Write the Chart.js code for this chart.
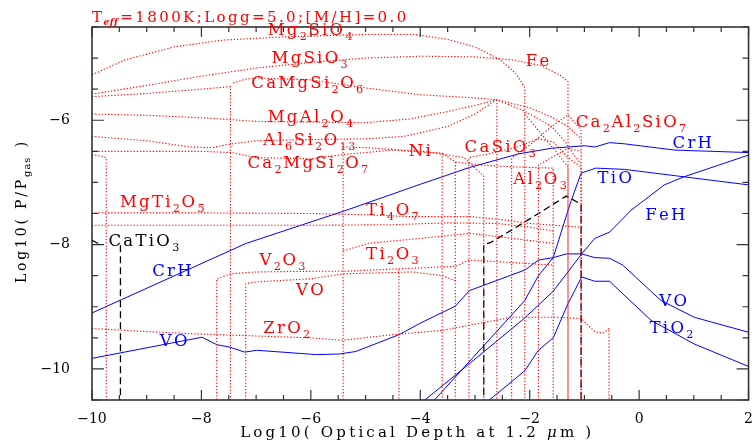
<!DOCTYPE html>
<html lang="en">
<head>
<meta charset="UTF-8">
<title>Condensates - Teff 1800K</title>
<style>
    html, body { margin: 0; padding: 0; background: #fff; }
    #wrap { width: 756px; height: 443px; }
</style>
</head>
<body>
<div id="wrap"><canvas id="chart"></canvas></div>
<script src="https://cdn.jsdelivr.net/npm/chart.js"></script>
<script>
// axis ticks
const xTicks = [-10, -8, -6, -4, -2, 0, 2];
const yTicks = [-10, -8, -6];

// blue molecules (log optical depth, log P/Pgas)
const crhX  = [-10, -7.18, -5.36, -4.0, -3.1, -2.2, -1.6, -1.0, -0.81, -0.54, -0.26, 0.65, 2.0];
const crhY  = [-9.10, -7.98, -7.45, -7.03, -6.76, -6.54, -6.45, -6.41, -6.43, -6.36, -6.38, -6.48, -6.52];
const tioX  = [-3.75, -2.09, -1.84, -1.57, -1.30, -1.24, -1.06, -0.79, -0.27, 0.82, 2.0];
const tioY  = [-10.51, -8.90, -8.50, -8.21, -7.45, -7.29, -6.85, -6.77, -6.79, -6.91, -7.04];
const fehX  = [-3.93, -3.12, -2.09, -1.57, -1.05, -0.81, -0.54, -0.15, 0.46, 0.82, 2.0];
const fehY  = [-10.51, -9.93, -9.18, -8.75, -8.15, -7.90, -7.80, -7.45, -7.04, -6.91, -6.56];
const voX   = [-10, -7.99, -7.72, -7.48, -7.21, -6.99, -5.90, -5.48, -5.18, -4.39, -3.99, -3.36, -3.10, -2.09, -1.84, -1.57, -1.33, -1.05, -0.81, -0.54, -0.30, 0.40, 1.01, 2.0];
const voY   = [-9.83, -9.49, -9.61, -9.65, -9.73, -9.70, -9.77, -9.76, -9.72, -9.45, -9.26, -8.99, -8.74, -8.41, -8.25, -8.21, -8.15, -8.15, -8.21, -8.22, -8.33, -8.90, -9.17, -9.41];
const tio2X = [-2.75, -2.09, -1.84, -1.57, -1.30, -1.05, -0.81, -0.54, -0.30, 0.22, 1.01, 2.0];
const tio2Y = [-10.51, -10.03, -9.70, -9.50, -8.95, -8.52, -8.59, -8.59, -8.79, -9.22, -9.60, -9.96];

// black dashed CaTiO3
const catio3A = [[-10, -7.93], [-9.85, -8.0]];
const catio3B = [[-9.48, -10.6], [-9.48, -7.98]];
const catio3C = [[-2.84, -10.6], [-2.84, -8.0], [-2.72, -7.97], [-2.3, -7.75], [-1.84, -7.5], [-1.33, -7.22], [-1.06, -7.35], [-1.06, -10.6]];

// red dotted condensates
const mg2sio4   = [[-10, -5.27], [-9.4, -5.03], [-8.5, -4.82], [-7.6, -4.71], [-6.5, -4.66], [-5, -4.62], [-4.1, -4.62], [-3.5, -4.7], [-3.0, -4.82], [-2.55, -5.02], [-2.25, -5.25], [-2.09, -5.48], [-2.09, -10.6]];
const mgsio3    = [[-10, -5.58], [-9, -5.44], [-8, -5.29], [-7, -5.16], [-6, -5.07], [-5, -5.0], [-4, -4.97], [-3, -4.98], [-2.3, -5.03], [-1.8, -5.12], [-1.45, -5.27], [-1.3, -5.38], [-1.3, -10.6]];
const camgsi2o6a = [[-10, -5.62], [-9, -5.57], [-8, -5.5], [-7.47, -5.46], [-7.47, -10.6]];
const camgsi2o6b = [[-7.42, -5.4], [-7.2, -5.34], [-7, -5.32], [-6, -5.35], [-5, -5.48], [-4, -5.59], [-3, -5.64], [-2.6, -5.67], [-2.6, -10.6]];
const mgal2o4   = [[-10, -5.9], [-9, -5.92], [-8, -5.96], [-7.45, -5.99], [-7, -6.02], [-6, -6.03], [-5, -6.04], [-4.2, -5.98], [-3.5, -5.86], [-3, -5.76], [-2.6, -5.67], [-2.1, -5.85], [-1.6, -6.1], [-1.35, -6.35], [-1.2, -6.55], [-1.06, -6.7]];
const al6si2o13 = [[-10, -6.26], [-9, -6.33], [-8.2, -6.43], [-7.8, -6.44], [-7.45, -6.38], [-7, -6.33], [-6, -6.31], [-5, -6.3], [-4.3, -6.26], [-3.5, -6.1], [-3, -5.9], [-2.6, -5.67], [-2.0, -5.8], [-1.6, -5.95], [-1.3, -6.1], [-1.06, -6.3]];
const ca2mgsi2o7 = [[-10, -6.5], [-9, -6.5], [-8, -6.5], [-7.45, -6.52], [-7, -6.6], [-6, -6.62], [-5.41, -6.55], [-5, -6.52], [-4.5, -6.48], [-3.8, -6.52], [-3.2, -6.6], [-2.84, -6.9], [-2.84, -10.6]];
const shortPiece = [[-10, -6.55], [-9.74, -6.6], [-9.74, -10.6]];
const ni        = [[-5.41, -10.6], [-5.41, -6.43], [-5, -6.44], [-4.5, -6.47], [-4, -6.5], [-3.6, -6.53], [-3.6, -10.6]];
const niB       = [[-3.6, -6.53], [-3.36, -6.67], [-2.9, -6.72], [-2.3, -6.75], [-1.57, -6.77], [-1.57, -10.6]];
const niC       = [[-3.36, -6.67], [-3.36, -10.6]];
const casio3    = [[-3.11, -10.6], [-3.11, -6.6], [-2.8, -6.55], [-2.3, -6.45], [-1.84, -6.3], [-1.57, -6.35], [-1.3, -6.6], [-1.06, -6.75], [-1.06, -10.6]];
const ca2al2sio7 = [[-2.33, -10.6], [-2.33, -6.61], [-2.0, -6.4], [-1.6, -6.1], [-1.3, -5.91], [-1.06, -6.16], [-1.06, -10.6]];
const al2o3     = [[-1.84, -10.6], [-1.84, -6.72], [-1.6, -6.6], [-1.4, -6.5], [-1.3, -6.45], [-1.06, -6.5]];
const crossA    = [[-2.09, -5.9], [-1.57, -6.45], [-1.3, -6.75], [-1.3, -10.6]];
const mgti2o5   = [[-10, -7.49], [-8, -7.49], [-6, -7.5], [-5, -7.52], [-4.2, -7.55], [-3.1, -7.55], [-2.5, -7.6], [-2.0, -7.66], [-1.4, -7.7], [-1.06, -7.72]];
const ti4o7     = [[-10, -7.69], [-8, -7.69], [-6, -7.69], [-4.5, -7.68], [-3.5, -7.65], [-2.6, -7.66], [-2.0, -7.72], [-1.57, -7.78]];
const ti2o3     = [[-5.41, -8.1], [-4.94, -7.98], [-4, -7.9], [-3.1, -7.82], [-2.5, -7.88], [-1.57, -7.98]];
const v2o3      = [[-7.72, -10.6], [-7.72, -8.55], [-7.45, -8.47], [-7, -8.44], [-6, -8.43], [-5.4, -8.43], [-4.4, -8.39], [-3.6, -8.36], [-3.36, -8.35], [-3.1, -8.25], [-2.5, -8.28], [-1.57, -8.33]];
const voRed     = [[-7.19, -10.6], [-7.19, -8.63], [-7, -8.6], [-6, -8.55], [-5.4, -8.47], [-4.5, -8.45], [-4.15, -8.44], [-3.6, -8.5], [-3.36, -8.58]];
const vert439   = [[-4.39, -8.4], [-4.39, -10.6]];
const zro2      = [[-10, -9.35], [-9, -9.4], [-8, -9.44], [-7, -9.47], [-6, -9.5], [-5.41, -9.54], [-4.94, -9.49], [-4.39, -9.44], [-3.6, -9.38], [-3.0, -9.28], [-2.33, -9.17], [-1.5, -9.17], [-1.06, -9.19], [-0.8, -9.41], [-0.65, -9.42], [-0.55, -9.35], [-0.55, -10.6]];

const redCurves = [mg2sio4, mgsio3, camgsi2o6a, camgsi2o6b, mgal2o4, al6si2o13, ca2mgsi2o7, shortPiece,
    ni, niB, niC, casio3, ca2al2sio7, al2o3, crossA, mgti2o5, ti4o7, ti2o3, v2o3, voRed, vert439, zro2];

// text labels: [text, x, y, color]  ("_{..}" = subscript)
const labels = [
    ['Mg_{2}SiO_{4}', -6.79, -4.54, 'red'],
    ['MgSiO_{3}', -6.72, -4.98, 'red'],
    ['CaMgSi_{2}O_{6}', -7.09, -5.38, 'red'],
    ['MgAl_{2}O_{4}', -6.79, -5.93, 'red'],
    ['Al_{6}Si_{2}O_{13}', -6.87, -6.30, 'red'],
    ['Ca_{2}MgSi_{2}O_{7}', -7.16, -6.67, 'red'],
    ['Ni', -4.21, -6.48, 'red'],
    ['CaSiO_{3}', -3.19, -6.42, 'red'],
    ['Fe', -2.07, -5.03, 'red'],
    ['Ca_{2}Al_{2}SiO_{7}', -1.16, -6.01, 'red'],
    ['Al_{2}O_{3}', -2.30, -6.93, 'red'],
    ['MgTi_{2}O_{5}', -9.49, -7.30, 'red'],
    ['Ti_{4}O_{7}', -4.99, -7.43, 'red'],
    ['V_{2}O_{3}', -6.94, -8.24, 'red'],
    ['Ti_{2}O_{3}', -4.99, -8.14, 'red'],
    ['VO', -6.27, -8.71, 'red'],
    ['ZrO_{2}', -6.87, -9.33, 'red'],
    ['CaTiO_{3}', -9.70, -7.93, 'black'],
    ['CrH', -8.90, -8.41, 'blue'],
    ['VO', -8.76, -9.53, 'blue'],
    ['CrH', 0.61, -6.35, 'blue'],
    ['TiO', -0.76, -6.92, 'blue'],
    ['FeH', 0.11, -7.51, 'blue'],
    ['VO', 0.37, -8.90, 'blue'],
    ['TiO_{2}', 0.19, -9.32, 'blue']
];

const SERIF = '"DejaVu Serif", "Liberation Serif", serif';
const RED = '#ff0000';
const BLUE = '#0000ff';

function pts(xs, ys) { return xs.map((x, i) => ({ x: x, y: ys[i] })); }
function pairs(arr) { return arr.map(p => ({ x: p[0], y: p[1] })); }

const datasets = [];
redCurves.forEach(c => datasets.push({
    data: pairs(c), borderColor: RED, borderWidth: 1.1, borderDash: [1.3, 1.9],
    pointRadius: 0, tension: 0, clip: 0
}));
[catio3A, catio3B, catio3C].forEach(c => datasets.push({
    data: pairs(c), borderColor: '#000', borderWidth: 1.3, borderDash: [7, 4],
    pointRadius: 0, tension: 0, clip: 0
}));
[[crhX, crhY], [tioX, tioY], [fehX, fehY], [voX, voY], [tio2X, tio2Y]].forEach(s => datasets.push({
    data: pts(s[0], s[1]), borderColor: BLUE, borderWidth: 1,
    pointRadius: 0, tension: 0, clip: 0
}));

// split "Mg_{2}SiO_{4}" into runs
function parseRich(str) {
    const out = [];
    const re = /_\{([^}]*)\}/g;
    let last = 0, m;
    while ((m = re.exec(str)) !== null) {
        if (m.index > last) out.push({ t: str.slice(last, m.index), sub: false });
        out.push({ t: m[1], sub: true });
        last = re.lastIndex;
    }
    if (last < str.length) out.push({ t: str.slice(last), sub: false });
    return out;
}

// draw text char by char with extra spacing, returns end x
function spaced(ctx, text, x, y, gap) {
    for (const ch of text) {
        ctx.fillText(ch, x, y);
        x += ctx.measureText(ch).width + gap;
    }
    return x;
}

function drawRich(ctx, str, x, yMid, size, color, gap) {
    ctx.save();
    ctx.fillStyle = color;
    ctx.textAlign = 'left';
    ctx.textBaseline = 'alphabetic';
    const base = yMid + size * 0.36;
    parseRich(str).forEach(r => {
        if (r.sub) {
            const s = size * 0.68;
            ctx.font = s + 'px ' + SERIF;
            x = spaced(ctx, r.t, x, base + size * 0.3, gap * 0.7);
        } else {
            ctx.font = size + 'px ' + SERIF;
            x = spaced(ctx, r.t, x, base, gap);
        }
    });
    ctx.restore();
    return x;
}

const decor = {
    id: 'decor',
    afterDraw(chart) {
        const ctx = chart.ctx;
        const a = chart.chartArea;
        const xs = chart.scales.x, ys = chart.scales.y;

        // frame
        ctx.save();
        ctx.strokeStyle = '#333';
        ctx.lineWidth = 1.6;
        ctx.strokeRect(a.left, a.top, a.right - a.left, a.bottom - a.top);

        // inward ticks on all four sides
        ctx.lineWidth = 1.2;
        ctx.beginPath();
        for (let v = -10; v <= 2.001; v += 0.5) {
            const px = xs.getPixelForValue(v);
            const len = Math.abs(v % 2) < 1e-6 ? 10 : 5;
            ctx.moveTo(px, a.bottom); ctx.lineTo(px, a.bottom - len);
            ctx.moveTo(px, a.top); ctx.lineTo(px, a.top + len);
        }
        for (let v = -10.5; v <= -4.499; v += 0.5) {
            const py = ys.getPixelForValue(v);
            const len = Math.abs(v % 2) < 1e-6 ? 12 : 6;
            ctx.moveTo(a.left, py); ctx.lineTo(a.left + len, py);
            ctx.moveTo(a.right, py); ctx.lineTo(a.right - len, py);
        }
        ctx.stroke();
        ctx.restore();

        // curve labels
        labels.forEach(l => {
            const col = l[3] === 'red' ? RED : (l[3] === 'blue' ? BLUE : '#000');
            drawRich(ctx, l[0], xs.getPixelForValue(l[1]), ys.getPixelForValue(l[2]), 16.5, col, 2.3);
        });

        // header
        ctx.save();
        ctx.fillStyle = RED;
        ctx.textBaseline = 'alphabetic';
        let x = a.left;
        ctx.font = '15px ' + SERIF;
        x = spaced(ctx, 'T', x, 22, 2.4);
        ctx.font = 'italic bold 9px ' + SERIF;
        x = spaced(ctx, 'eff', x - 1, 25, 0.5);
        ctx.font = '15px ' + SERIF;
        spaced(ctx, '=1800K;Logg=5.0;[M/H]=0.0', x + 2, 22, 2.4);
        ctx.restore();

        // axis titles
        ctx.save();
        ctx.fillStyle = '#000';
        ctx.font = '15px ' + SERIF;
        ctx.textBaseline = 'middle';
        const xt = 'Log10( Optical Depth at 1.2 ';
        const gap = 3.2;
        let w = 0;
        for (const ch of xt) w += ctx.measureText(ch).width + gap;
        ctx.font = 'italic 15px ' + SERIF;
        w += ctx.measureText('\u03bc').width + gap;
        ctx.font = '15px ' + SERIF;
        for (const ch of 'm )') w += ctx.measureText(ch).width + gap;
        let tx = (a.left + a.right) / 2 - w / 2 - 3;
        tx = spaced(ctx, xt, tx, 433, gap);
        ctx.font = 'italic 15px ' + SERIF;
        tx = spaced(ctx, '\u03bc', tx, 433, gap);
        ctx.font = '15px ' + SERIF;
        spaced(ctx, 'm )', tx, 433, gap);

        ctx.font = '14px ' + SERIF;
        ctx.translate(21, 212);
        ctx.rotate(-Math.PI / 2);
        ctx.textBaseline = 'alphabetic';
        const ygap = 2.8;
        const yt1 = 'Log10( P/P';
        let yw = 0;
        for (const ch of yt1) yw += ctx.measureText(ch).width + ygap;
        ctx.font = '10px ' + SERIF;
        for (const ch of 'gas') yw += ctx.measureText(ch).width + 1;
        ctx.font = '14px ' + SERIF;
        yw += ctx.measureText(' )').width + ygap * 2;
        let yx = -yw / 2;
        yx = spaced(ctx, yt1, yx, 5, ygap);
        ctx.font = '10px ' + SERIF;
        yx = spaced(ctx, 'gas', yx, 9, 1);
        ctx.font = '14px ' + SERIF;
        spaced(ctx, ' )', yx + 2, 5, ygap);
        ctx.restore();
    }
};

const fmt = v => (v < 0 ? '\u2212' + Math.abs(v) : String(v));

new Chart(document.getElementById('chart'), {
    type: 'line',
    data: { datasets: datasets },
    options: {
        responsive: true,
        maintainAspectRatio: false,
        animation: false,
        layout: { padding: { top: 27, right: 4, left: 0, bottom: 0 } },
        plugins: { legend: { display: false }, tooltip: { enabled: false } },
        scales: {
            x: {
                type: 'linear', min: -10, max: 2,
                afterBuildTicks: s => { s.ticks = xTicks.map(v => ({ value: v })); },
                afterFit: s => { s.height = 43; },
                grid: { display: false }, border: { display: false },
                ticks: { font: { family: SERIF, size: 14 }, color: '#000', padding: 3, maxRotation: 0, autoSkip: false, callback: fmt }
            },
            y: {
                type: 'linear', min: -10.5, max: -4.5,
                afterBuildTicks: s => { s.ticks = yTicks.map(v => ({ value: v })); },
                afterFit: s => { s.width = 92; },
                grid: { display: false }, border: { display: false },
                ticks: { font: { family: SERIF, size: 14 }, color: '#000', padding: 14, autoSkip: false, callback: fmt }
            }
        }
    },
    plugins: [decor]
});
</script>
</body>
</html>
